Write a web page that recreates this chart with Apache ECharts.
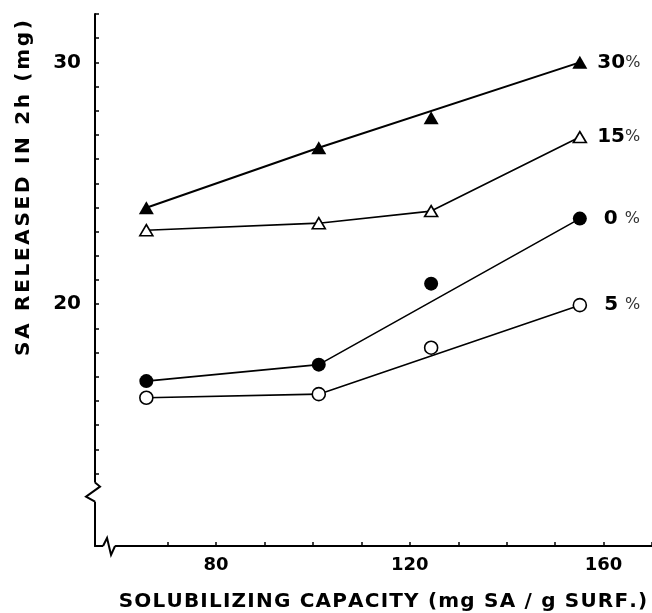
<!DOCTYPE html>
<html><head><meta charset="utf-8">
<script src="https://cdn.jsdelivr.net/npm/echarts@6/dist/echarts.min.js"></script>
<style>html,body{margin:0;padding:0;background:#fff}#c{width:652px;height:613px}</style>
</head><body><div id="c"></div>
<script>
// ---- data ----
const capacity = [65.6, 101.2, 124.4, 155.1];
const released30 = [23.99, 26.47, 27.71, 30.0];
const released15 = [23.06, 23.35, 23.85, 26.91];
const released0 = [16.82, 17.50, 20.85, 23.54];
const released5 = [16.13, 16.28, 18.20, 19.96];
// which points the drawn line passes through
const lineIdx30 = [0, 1, 3];
const lineIdx15 = [0, 1, 2, 3];
const lineIdx0 = [0, 1, 3];
const lineIdx5 = [0, 1, 3];
const seriesLabels = ['30%', '15%', '0 %', '5 %'];
const xTickValues = [70, 80, 90, 100, 110, 120, 130, 140, 150, 160, 170];
const xLabelValues = [80, 120, 160];
const yTickValues = [13,14,15,16,17,18,19,20,21,22,23,24,25,26,27,28,29,30,31,32];
const yLabelValues = [20, 30];
const xTitle = 'SOLUBILIZING CAPACITY (mg SA / g SURF.)';
const yTitle = 'SA RELEASED IN 2h (mg)';

const FONT = '"DejaVu Sans", sans-serif';
function spaced(t){ return t.split('').join('{g| }'); }

const groups = [
  {vals: released30, idx: lineIdx30, label: seriesLabels[0], symbol: 'triangle', size: [15, 13], filled: true, lw: 2},
  {vals: released15, idx: lineIdx15, label: seriesLabels[1], symbol: 'triangle', size: [13, 11], filled: false, lw: 1.6},
  {vals: released0, idx: lineIdx0, label: seriesLabels[2], symbol: 'circle', size: 14, filled: true, lw: 1.6},
  {vals: released5, idx: lineIdx5, label: seriesLabels[3], symbol: 'circle', size: 13, filled: false, lw: 1.6}
];

const series = [];
groups.forEach(g => {
  series.push({
    type: 'line', silent: true, showSymbol: false, symbol: 'none', z: 2,
    data: g.idx.map(i => [capacity[i], g.vals[i]]),
    lineStyle: {color: '#000', width: g.lw, opacity: 1}
  });
  series.push({
    type: 'scatter', z: 5, symbol: g.symbol, symbolSize: g.size,
    data: capacity.map((x, i) => [x, g.vals[i]]),
    itemStyle: g.filled ? {color: '#000', opacity: 1} : {color: '#fff', borderColor: '#000', borderWidth: 1.6, opacity: 1},
    emphasis: {disabled: true},
    label: {
      show: true, position: 'right', distance: g.label.indexOf(' ') >= 0 ? 17 : 10,
      formatter: p => p.dataIndex === capacity.length - 1 ? g.label.replace(/(\d+)(\s?)%/, '{n|$1}$2{p|%}') : '',
      fontFamily: FONT, fontSize: 20, fontWeight: 'bold', color: '#000',
      rich: {
        n: {fontFamily: FONT, fontSize: 20, fontWeight: 'bold', color: '#000'},
        p: {fontFamily: FONT, fontSize: 16, fontWeight: 'normal', color: '#333'}
      }
    }
  });
});

const chart = echarts.init(document.getElementById('c'), null, {renderer: 'canvas'});
const option = {
  animation: false,
  backgroundColor: '#fff',
  grid: {left: 95, right: 0, top: 14, bottom: 67, containLabel: false, outerBoundsMode: 'none'},
  xAxis: {
    type: 'value', min: 55, max: 170,
    axisLine: {show: true, lineStyle: {color: '#000', width: 2}},
    axisTick: {show: true, inside: true, length: 4, customValues: xTickValues, lineStyle: {color: '#000', width: 1.5}},
    axisLabel: {customValues: xLabelValues, fontFamily: FONT, fontSize: 18, fontWeight: 'bold', color: '#000', margin: 10},
    splitLine: {show: false}
  },
  yAxis: {
    type: 'value', min: 10, max: 32,
    axisLine: {show: true, lineStyle: {color: '#000', width: 2}},
    axisTick: {show: true, inside: true, length: 4, customValues: yTickValues, lineStyle: {color: '#000', width: 1.5}},
    axisLabel: {customValues: yLabelValues, fontFamily: FONT, fontSize: 20, fontWeight: 'bold', color: '#000', margin: 14},
    splitLine: {show: false}
  },
  series: series
};
chart.setOption(option);

// axis break marks and titles
const yBreakValue = 12.25, xBreakValue = 57.9;
const yb = chart.convertToPixel({gridIndex: 0}, [55, yBreakValue]);
const xb = chart.convertToPixel({gridIndex: 0}, [xBreakValue, 10]);
const px = yb[0], py = yb[1], qx = xb[0], qy = xb[1];
chart.setOption({
  graphic: [
    {type: 'line', z: 100, shape: {x1: px, y1: py - 9, x2: px, y2: py + 10}, style: {stroke: '#fff', lineWidth: 5}},
    {type: 'polyline', z: 101, shape: {points: [[px, py - 9], [px + 5, py - 5], [px - 9, py + 5], [px, py + 10]]}, style: {stroke: '#000', lineWidth: 2, fill: null}},
    {type: 'line', z: 100, shape: {x1: qx - 6, y1: qy, x2: qx + 6, y2: qy}, style: {stroke: '#fff', lineWidth: 5}},
    {type: 'polyline', z: 101, shape: {points: [[qx - 6, qy], [qx - 2, qy - 8], [qx + 2, qy + 9], [qx + 6, qy]]}, style: {stroke: '#000', lineWidth: 2, fill: null}},
    {type: 'text', z: 100, x: 24, y: 188, rotation: Math.PI / 2,
      style: {text: spaced(yTitle), font: 'bold 20px ' + FONT, fill: '#000', align: 'center', verticalAlign: 'middle',
        rich: {g: {width: 2.7, font: 'bold 20px ' + FONT}}}},
    {type: 'text', z: 100, x: 383, y: 602,
      style: {text: spaced(xTitle), font: 'bold 20px ' + FONT, fill: '#000', align: 'center', verticalAlign: 'middle',
        rich: {g: {width: 1.2, font: 'bold 20px ' + FONT}}}}
  ]
});
</script></body></html>
